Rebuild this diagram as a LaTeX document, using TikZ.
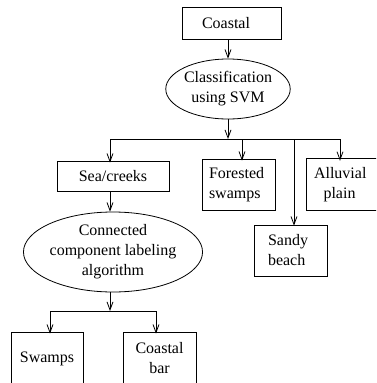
\documentclass[tikz,border=0pt]{standalone}
\usepackage{fontspec}
\setmainfont{Liberation Serif}
\usetikzlibrary{arrows.meta,shapes.geometric}
\begin{document}
\begin{tikzpicture}[x=1pt,y=-1pt,
  every node/.style={font=\fontsize{16}{20}\selectfont, inner sep=0pt},
  box/.style={draw, rectangle, line width=0.8pt, align=center},
  oval/.style={draw, ellipse, line width=0.8pt, align=center},
  link/.style={line width=0.8pt},
  arr/.style={link, -{Straight Barb[length=8pt,width=6pt,line width=0.8pt]}}]
\clip (0,0) rectangle (376,383);
\useasboundingbox (0,0) rectangle (376,383);

% top of the flow
\node[box, minimum width=99, minimum height=32, text width=59, inner xsep=20, align=left] (coastal) at (231.5,23) {Coastal};
\node[oval, minimum width=106, minimum height=60] (svm) at (228,89) {Classification\\using SVM};

% classes from the SVM
\node[box, minimum width=112, minimum height=30] (sea) at (113,176) {Sea/creeks};
\node[box, minimum height=51, text width=59, inner xsep=7, align=left] (forest) at (238.5,184.5) {Forested\\swamps};
\node[minimum height=51, text width=51, inner xsep=7, align=center] (alluvial) at (339.5,184.5) {Alluvial\\plain};
\draw[link] (alluvial.north west) rectangle ([xshift=20pt]alluvial.south east);
\node[box, minimum height=51, text width=45, inner xsep=14, align=left] (sandy) at (290.5,250.5) {Sandy\\beach};

% refinement of sea/creeks
\node[oval, minimum width=132, minimum height=80] (ccl) at (113,252) {Connected\\component labeling\\algorithm};
\node[box, minimum width=72, minimum height=54] (swamps) at (47,359) {Swamps};
\node[box, minimum width=73, minimum height=52] (cbar) at (159.5,358) {Coastal\\bar};

% junction points
\coordinate (j1) at (228,139);
\coordinate (bL) at (110,139);
\coordinate (bF) at (242,139);
\coordinate (bS) at (294,139);
\coordinate (bR) at (340,139);
\coordinate (j2) at (110,311);
\coordinate (cL) at (50,311);
\coordinate (cR) at (156,311);

% connectors
\draw[arr] (svm.north |- coastal.south) -- (svm.north);
\draw[arr] (svm.south) -- (j1);
\draw[link] (bL) -- (bR);
\draw[arr] (bL) -- ([yshift=-2pt]bL |- sea.north);
\draw[arr] (bF) -- ([yshift=-2pt]bF |- forest.north);
\draw[arr] (bS) -- ([yshift=-1pt]bS |- sandy.north);
\draw[arr] (bR) -- ([yshift=-2pt]bR |- alluvial.north);
\draw[arr] (sea.south -| bL) -- (ccl.north -| bL);
\draw[arr] (ccl.south -| j2) -- (j2);
\draw[link] (cL) -- (cR);
\draw[arr] (cL) -- ([yshift=-2pt]cL |- swamps.north);
\draw[arr] (cR) -- ([yshift=-2pt]cR |- cbar.north);
\end{tikzpicture}
\end{document}
